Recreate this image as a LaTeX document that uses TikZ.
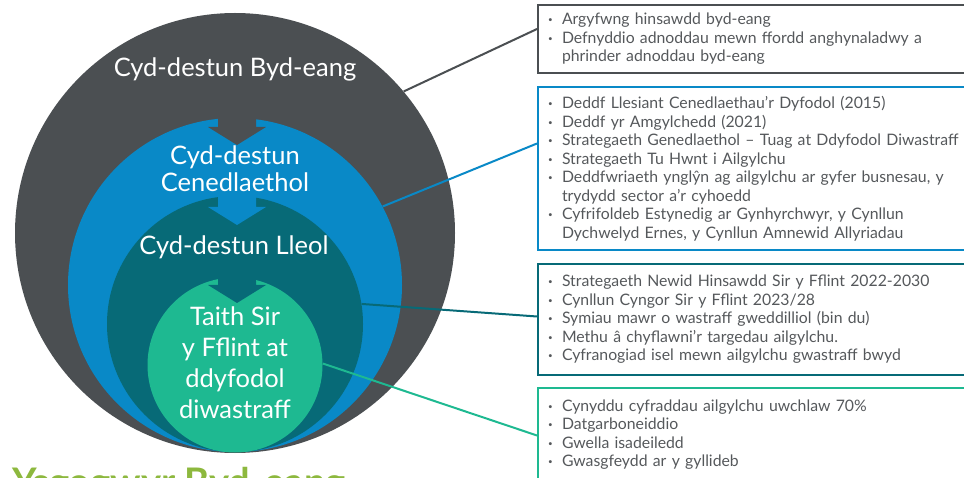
\documentclass[tikz,border=0pt]{standalone}
\usepackage{fontspec}
\setmainfont{Lato}
\usetikzlibrary{positioning}
\definecolor{globalgrey}{HTML}{4B4F52}
\definecolor{nationblue}{HTML}{0989C7}
\definecolor{localteal}{HTML}{076A77}
\definecolor{flintgreen}{HTML}{1EB991}
\definecolor{driverlime}{HTML}{8DB83E}
\definecolor{boxtext}{HTML}{55585B}
\tikzset{%
    ring/.style={
      circle,
      draw=none,
      inner sep=0pt
    },
    ringtext/.style={
      text=white,
      align=center,
      inner sep=0pt,
      font=\fontsize{25.5}{27}\selectfont
    },
    infobox/.style={
      rectangle,
      draw,
      line width=2pt,
      anchor=north west,
      minimum width=445pt,
      text width=425pt,
      inner xsep=10pt,
      align=left,
      text=boxtext,
      font=\fontsize{15.8}{18.5}\selectfont
    },
    link/.style={
      line width=2pt
    }
  }
\newcommand{\itm}[1]{\makebox[14pt][l]{\fontsize{8}{8}\selectfont\raisebox{2pt}{•}}#1}
\newcommand{\cnt}[1]{\hspace*{14pt}#1}
\newcommand{\downflow}[4]{% colour, x, shaft top, head top
  \fill[#1] (#2-19,-#3) -- (#2+19,-#3) -- (#2+19,-#4) -- (#2+29,-#4)
    -- (#2,-#4-18) -- (#2-29,-#4) -- (#2-19,-#4) -- cycle;}
\begin{document}
\begin{tikzpicture}[x=1pt, y=1pt]
      \useasboundingbox (0,0) rectangle (964,-478);

      \node [ring, fill=globalgrey, minimum size=440pt] (glob) at (235,-233) {};
      \node [ring, fill=nationblue, minimum size=334pt] (nat) at (235,-285) {};
      \node [ring, fill=localteal, minimum size=256pt] (loc) at (235,-324) {};
      \node [ring, fill=flintgreen, minimum size=175pt] (flint) at (235,-365) {};

      \downflow{globalgrey}{237}{108}{127}
      \downflow{nationblue}{237}{188}{207}
      \downflow{localteal}{237}{268}{285}

      \node [ringtext, anchor=base] (globtxt) at (235,-77) {Cyd-destun Byd-eang};
      \node [ringtext] (nattxt) at (235,-169) {Cyd-destun\\Cenedlaethol};
      \node [ringtext, anchor=base] (loctxt) at (234,-255) {Cyd-destun Lleol};
      \node [ringtext, font=\fontsize{25.5}{31}\selectfont] (flinttxt) at (235,-363)
        {Taith Sir\\y Fflint at\\ddyfodol\\diwastraff};

      \node [anchor=base west, inner sep=0pt, text=driverlime,
        font=\fontsize{38}{38}\selectfont\bfseries] (drivers) at (12,-495.5) {Ysgogwyr Byd-eang};

      \node [infobox, draw=globalgrey, minimum height=68pt] (globbox) at (537,-4) {%
        \itm{Argyfwng hinsawdd byd-eang}\\
        \itm{Defnyddio adnoddau mewn ffordd anghynaladwy a}\\
        \cnt{phrinder adnoddau byd-eang}};
      \node [infobox, draw=nationblue, minimum height=163pt] (natbox) at (537,-86) {%
        \itm{Deddf Llesiant Cenedlaethau’r Dyfodol (2015)}\\
        \itm{Deddf yr Amgylchedd (2021)}\\
        \itm{Strategaeth Genedlaethol – Tuag at Ddyfodol Diwastraff}\\
        \itm{Strategaeth Tu Hwnt i Ailgylchu}\\
        \itm{Deddfwriaeth ynglŷn ag ailgylchu ar gyfer busnesau, y}\\
        \cnt{trydydd sector a’r cyhoedd}\\
        \itm{Cyfrifoldeb Estynedig ar Gynhyrchwyr, y Cynllun}\\
        \cnt{Dychwelyd Ernes, y Cynllun Amnewid Allyriadau}};
      \node [infobox, draw=localteal, minimum height=111pt] (locbox) at (537,-263) {%
        \itm{Strategaeth Newid Hinsawdd Sir y Fflint 2022-2030}\\
        \itm{Cynllun Cyngor Sir y Fflint 2023/28}\\
        \itm{Symiau mawr o wastraff gweddilliol (bin du)}\\
        \itm{Methu â chyflawni’r targedau ailgylchu.}\\
        \itm{Cyfranogiad isel mewn ailgylchu gwastraff bwyd}};
      \node [infobox, draw=flintgreen, minimum height=93pt] (flintbox) at (537,-387) {%
        \itm{Cynyddu cyfraddau ailgylchu uwchlaw 70\%}\\
        \itm{Datgarboneiddio}\\
        \itm{Gwella isadeiledd}\\
        \itm{Gwasgfeydd ar y gyllideb}};

      \draw [link, globalgrey] (glob.40) -- ([yshift=10pt]globbox.west);
      \draw [link, nationblue] (nat.28) -- ([yshift=25pt]natbox.west);
      \draw [link, localteal] (loc.9) -- ([yshift=3pt]locbox.west);
      \draw [link, flintgreen] (flint.1) -- ([yshift=-1pt]flintbox.west);
\end{tikzpicture}
\end{document}
